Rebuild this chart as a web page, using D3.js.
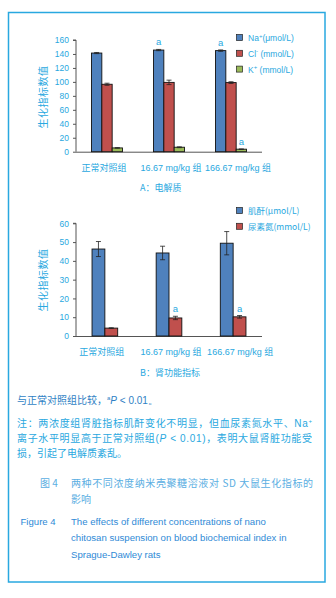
<!DOCTYPE html>
<html>
<head>
<meta charset="utf-8">
<script src="https://cdn.jsdelivr.net/npm/d3@7/dist/d3.min.js"></script>
<style>
  body { margin: 0; background: #fff; }
  svg { display: block; }
  text { font-family: "Liberation Sans", Arial, "Noto Sans CJK SC", sans-serif; }
  .cjk { font-family: "Noto Sans CJK SC", sans-serif; }
</style>
</head>
<body>
<svg id="chart" width="336" height="598"></svg>
<script>
// groups (shared by both panels)
var groups = ["正常对照组", "16.67 mg/kg 组", "166.67 mg/kg 组"]

// panel A - electrolytes
var seriesA = ["Na+", "Cl-", "K+"]
var naVals = [141.3, 145.6, 144.8]
var naErr = [0.8, 0.9, 1.0]
var clVals = [96.6, 99.3, 99.0]
var clErr = [1.5, 3.2, 1.2]
var kVals = [5.4, 6.4, 3.6]
var kErr = [0.3, 0.6, 0.3]
var sigA = [[false, true, true], [false, false, false], [false, false, true]]
var ticksA = [0, 20, 40, 60, 80, 100, 120, 140, 160]

// panel B - kidney function
var seriesB = ["肌酐(μmol/L)", "尿素氮(mmol/L)"]
var crVals = [46.3, 44.2, 49.4]
var crErr = [4.0, 3.6, 6.2]
var bunVals = [4.2, 9.6, 10.2]
var bunErr = [0.2, 0.9, 0.7]
var sigB = [[false, false, false], [false, true, true]]
var ticksB = [0, 10, 20, 30, 40, 50, 60]

var colors = ["#4f81bd", "#c0504d", "#9bbb59"]
var cyan = "#29a8e0"

var svg = d3.select("#chart")
svg.append("rect").attr("width", 336).attr("height", 598).attr("fill", "#fff")
svg.append("rect")
  .attr("x", 8.5).attr("y", 12.5).attr("width", 316.5).attr("height", 569.5)
  .attr("fill", "none").attr("stroke", cyan).attr("stroke-width", 1.5)

function panel(opts){
  var g = svg.append("g")
  var y = d3.scaleLinear().domain([0, opts.max]).range([opts.y0, opts.y1])
  var x0 = d3.scaleBand().domain(groups).range([76, 262])
    .paddingInner(opts.padIn).paddingOuter(opts.padOut)
  var x1 = d3.scaleBand().domain(d3.range(opts.series.length)).range([0, x0.bandwidth()])

  // y axis
  var yAxis = g.append("g")
    .attr("transform", "translate(76,0)")
    .call(d3.axisLeft(y).tickValues(opts.ticks).tickSize(3).tickPadding(4))
  yAxis.select(".domain").attr("stroke", "#555").attr("d", "M-3," + opts.y1 + "H0V" + opts.y0)
  yAxis.selectAll(".tick line").attr("stroke", "#555")
  yAxis.selectAll(".tick text").attr("fill", cyan).style("font-size", "8.5px")
    .style("font-family", "Liberation Sans, Arial, sans-serif")

  // x axis (labels only)
  var xAxis = g.append("g")
    .attr("transform", "translate(0," + opts.y0 + ")")
    .call(d3.axisBottom(x0).tickSize(0).tickPadding(13))
  xAxis.select(".domain").attr("stroke", "#555").attr("d", "M76,0.5H262")
  xAxis.selectAll(".tick text").attr("fill", cyan).style("font-size", "9px")
    .style("font-family", "Liberation Sans, Arial, Noto Sans CJK SC, sans-serif")
    .attr("dx", function(d, i){ return i * 5 - 3 })

  // bars
  opts.vals.forEach(function(vals, s){
    g.append("g").selectAll("rect").data(vals).join("rect")
      .attr("x", function(d, i){ return x0(groups[i]) + x1(s) })
      .attr("y", function(d){ return y(d) })
      .attr("width", x1.bandwidth())
      .attr("height", function(d){ return y(0) - y(d) })
      .attr("fill", colors[s])
      .attr("stroke", "#111").attr("stroke-width", 0.9)

    // error bars
    var eg = g.append("g").attr("stroke", "#222").attr("stroke-width", 0.8)
    vals.forEach(function(v, i){
      var cx = x0(groups[i]) + x1(s) + x1.bandwidth() / 2
      var e = opts.errs[s][i]
      eg.append("line").attr("x1", cx).attr("x2", cx).attr("y1", y(v + e)).attr("y2", y(v - e))
      eg.append("line").attr("x1", cx - 2.5).attr("x2", cx + 2.5).attr("y1", y(v + e)).attr("y2", y(v + e))
      eg.append("line").attr("x1", cx - 2.5).attr("x2", cx + 2.5).attr("y1", y(v - e)).attr("y2", y(v - e))
      if (opts.sig[s][i]) {
        g.append("text").attr("x", cx).attr("y", y(v + e) - 4)
          .attr("text-anchor", "middle").attr("fill", cyan)
          .style("font-size", "9.5px").text("a")
      }
    })
  })

  // legend
  var lg = g.append("g").attr("transform", "translate(236," + opts.legY + ")")
  opts.legend.forEach(function(lab, i){
    var row = lg.append("g").attr("transform", "translate(0," + (i * opts.legStep) + ")")
    row.append("rect").attr("x", 0.5).attr("y", -3.5).attr("width", 6).attr("height", 6)
      .attr("fill", colors[i]).attr("stroke", "#222").attr("stroke-width", 0.7)
    var t = row.append("text").attr("x", 12).attr("y", 3).attr("fill", cyan).style("font-size", "8.5px")
    lab(t)
  })

  // y title
  g.append("text").attr("class", "cjk")
    .attr("transform", "translate(47," + opts.titleY + ") rotate(-90)")
    .attr("text-anchor", "middle").attr("fill", cyan)
    .style("font-size", "10px").style("letter-spacing", "0.5px").text("生化指标数值")

  // panel caption
  g.append("text").attr("class", "cjk").attr("x", 140).attr("y", opts.capY)
    .attr("fill", cyan).style("font-size", "9px").text(opts.cap)
}

panel({
  max: 160, y0: 151.7, y1: 40, ticks: ticksA, padIn: 0.5, padOut: 0.25,
  series: seriesA, vals: [naVals, clVals, kVals], errs: [naErr, clErr, kErr], sig: sigA,
  legY: 38, legStep: 15.8, titleY: 97, capY: 191, cap: "A：电解质",
  legend: [
    function(t){ t.text("Na"); t.append("tspan").attr("dy", -3.5).style("font-size", "6px").text("+");
                 t.append("tspan").attr("dy", 3.5).text("(μmol/L)") },
    function(t){ t.text("Cl"); t.append("tspan").attr("dy", -3.5).style("font-size", "6px").text("-");
                 t.append("tspan").attr("dy", 3.5).text(" (mmol/L)") },
    function(t){ t.text("K"); t.append("tspan").attr("dy", -3.5).style("font-size", "6px").text("+");
                 t.append("tspan").attr("dy", 3.5).text(" (mmol/L)") }
  ]
})

panel({
  max: 60, y0: 336, y1: 223.3, ticks: ticksB, padIn: 0.6, padOut: 0.25,
  series: seriesB, vals: [crVals, bunVals], errs: [crErr, bunErr], sig: sigB,
  legY: 211, legStep: 15.8, titleY: 280, capY: 376, cap: "B：肾功能指标",
  legend: seriesB.map(function(s){ return function(t){ t.attr("class", "cjk").style("font-size", "8.5px").text(s) } })
})

// notes
var notes = svg.append("g").attr("class", "cjk").style("font-size", "10px")
var n1 = notes.append("text").attr("x", 17).attr("y", 404).attr("fill", "#2f7fc4")
n1.append("tspan").text("与正常对照组比较，")
n1.append("tspan").attr("dy", -4).style("font-size", "6px").text("a")
n1.append("tspan").attr("dy", 4).style("font-style", "italic").style("font-family", "Liberation Sans, Arial").text("P")
n1.append("tspan").style("font-family", "Liberation Sans, Arial").text(" < 0.01。")

var noteLines = [
  ["注：两浓度组肾脏指标肌酐变化不明显，但血尿素氮水平、Na", "+"],
  ["离子水平明显高于正常对照组(", "P", " < 0.01)，表明大鼠肾脏功能受"],
  ["损，引起了电解质紊乱。"]
]
var l1 = notes.append("text").attr("x", 17).attr("y", 427).attr("fill", cyan)
  .attr("textLength", 295).attr("lengthAdjust", "spacing")
l1.append("tspan").text(noteLines[0][0])
l1.append("tspan").attr("dy", -4).style("font-size", "6px").text(noteLines[0][1])
var l2 = notes.append("text").attr("x", 17).attr("y", 442).attr("fill", cyan)
  .attr("textLength", 295).attr("lengthAdjust", "spacing")
l2.append("tspan").text(noteLines[1][0])
l2.append("tspan").style("font-style", "italic").style("font-family", "Liberation Sans, Arial").text(noteLines[1][1])
l2.append("tspan").text(noteLines[1][2])
notes.append("text").attr("x", 17).attr("y", 457).attr("fill", cyan).text(noteLines[2][0])

// figure caption
var cap = svg.append("g").style("font-size", "10px").attr("fill", "#5aaee2")
cap.append("text").attr("class", "cjk").attr("x", 40).attr("y", 487).text("图 4")
cap.append("text").attr("class", "cjk").attr("x", 71).attr("y", 487)
  .attr("textLength", 242).attr("lengthAdjust", "spacing")
  .text("两种不同浓度纳米壳聚糖溶液对 SD 大鼠生化指标的")
cap.append("text").attr("class", "cjk").attr("x", 71).attr("y", 503).text("影响")

var capEn = svg.append("g").style("font-size", "9.6px").attr("fill", "#2f8ad6")
capEn.append("text").attr("x", 20.5).attr("y", 525).text("Figure 4")
var enLines = ["The effects of different concentrations of nano",
  "chitosan suspension on blood biochemical index in", "Sprague-Dawley rats"]
enLines.forEach(function(l, i){
  capEn.append("text").attr("x", 71).attr("y", 525 + i * 16.3).text(l)
})
</script>
</body>
</html>
